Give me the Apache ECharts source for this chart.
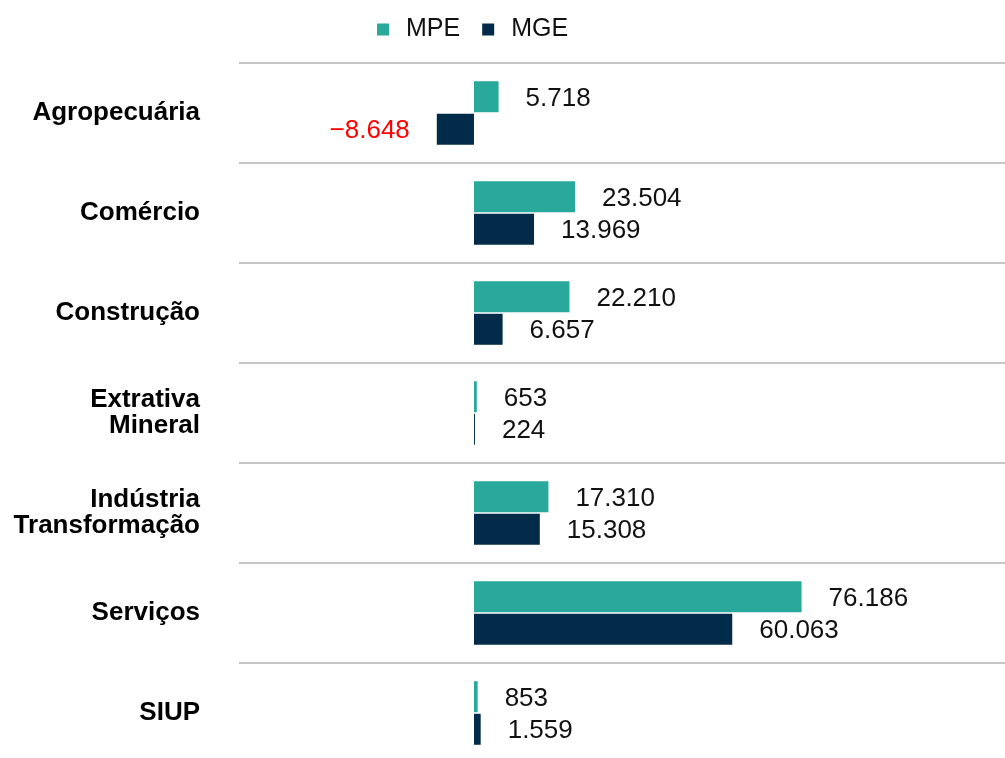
<!DOCTYPE html>
<html>
<head>
<meta charset="utf-8">
<script src="https://cdn.jsdelivr.net/npm/echarts@6/dist/echarts.min.js"></script>
<style>
html,body{margin:0;padding:0;background:#fff;overflow:hidden;width:1005px;height:758px;}
#chart{width:1005px;height:770px;}
</style>
</head>
<body>
<div id="chart"></div>
<script>
const categories = ['Agropecuária', 'Comércio', 'Construção', 'Extrativa\nMineral', 'Indústria\nTransformação', 'Serviços', 'SIUP'];
const seriesNames = ['MPE', 'MGE'];
const mpeValues = [5718, 23504, 22210, 653, 17310, 76186, 853];
const mgeValues = [-8648, 13969, 6657, 224, 15308, 60063, 1559];

const FONT = '"Liberation Sans", Arial, sans-serif';
const colors = ['#28a99c', '#012b48'];

function fmt(v) {
  const s = String(Math.abs(v)).replace(/\B(?=(\d{3})+(?!\d))/g, '.');
  return (v < 0 ? '\u2212' : '') + s;
}
function buildData(arr) {
  return arr.map(v => v < 0
    ? { value: v, label: { position: 'left', color: '#ff0000' } }
    : { value: v });
}

const chart = echarts.init(document.getElementById('chart'), null, { renderer: 'canvas' });
chart.setOption({
  animation: false,
  backgroundColor: '#ffffff',
  color: colors,
  textStyle: { fontFamily: FONT },
  legend: {
    data: seriesNames,
    left: 372,
    top: 12,
    icon: 'rect',
    itemWidth: 12,
    itemHeight: 12,
    itemGap: 22,
    textStyle: { fontFamily: FONT, fontSize: 25, color: '#111', padding: [0, 0, 0, 12] }
  },
  grid: { left: 239, top: 63, right: 0, bottom: 7, containLabel: false },
  xAxis: {
    type: 'value',
    min: -54650,
    max: 123500,
    show: false,
    splitLine: { show: false }
  },
  yAxis: {
    type: 'category',
    data: categories,
    inverse: true,
    axisLine: { show: false },
    axisTick: { show: false },
    splitLine: { show: true, lineStyle: { color: '#c6c6c6', width: 2 } },
    axisLabel: {
      margin: 39,
      fontFamily: FONT,
      fontSize: 26,
      fontWeight: 'bold',
      lineHeight: 26,
      color: '#000',
      align: 'right',
      padding: [4, 0, 0, 0]
    }
  },
  series: [
    {
      name: seriesNames[0],
      type: 'bar',
      data: buildData(mpeValues),
      barWidth: 31,
      barGap: '5%',
      label: { show: true, position: 'right', distance: 27, offset: [0, 2], fontFamily: FONT, fontSize: 26, color: '#111', formatter: p => fmt(p.value) }
    },
    {
      name: seriesNames[1],
      type: 'bar',
      data: buildData(mgeValues),
      barWidth: 31,
      barGap: '5%',
      label: { show: true, position: 'right', distance: 27, offset: [0, 2], fontFamily: FONT, fontSize: 26, color: '#111', formatter: p => fmt(p.value) }
    }
  ]
});
</script>
</body>
</html>
